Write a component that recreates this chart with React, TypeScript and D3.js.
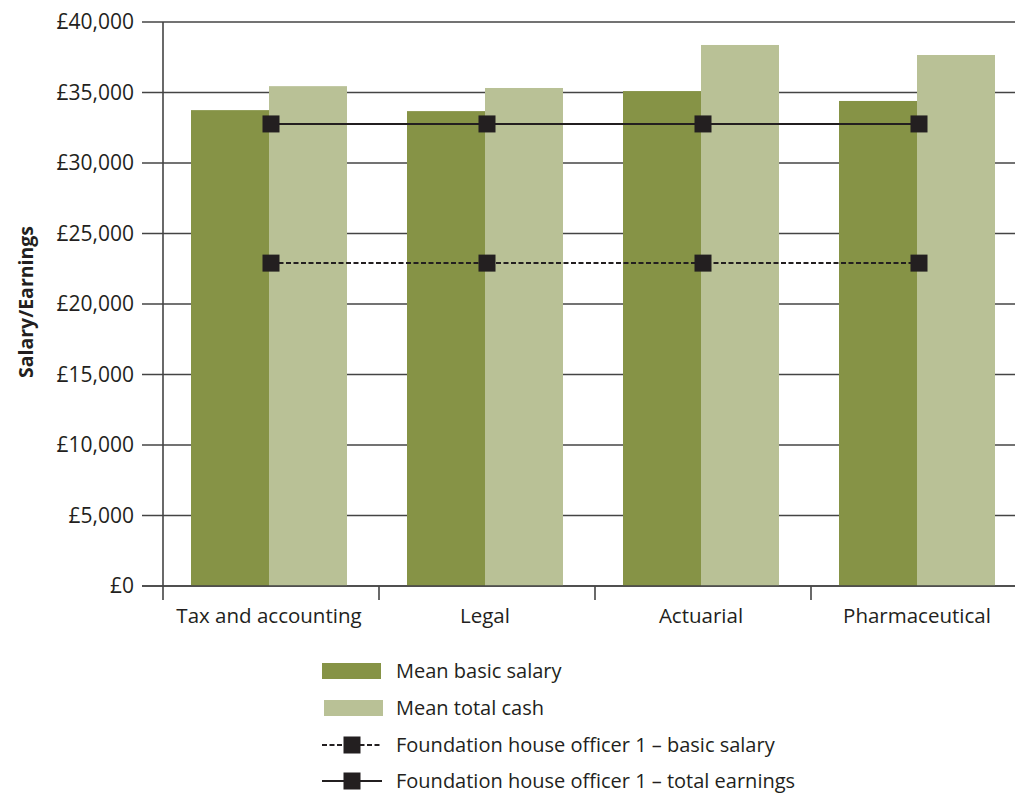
import { useEffect, useRef } from 'react'
import * as d3 from 'd3'

const categories = ['Tax and accounting', 'Legal', 'Actuarial', 'Pharmaceutical']
const meanBasicSalary = [33750, 33680, 35100, 34400]
const meanTotalCash = [35450, 35320, 38370, 37660]
const fhoBasicSalary = [22900, 22900, 22900, 22900]
const fhoTotalEarnings = [32770, 32770, 32770, 32770]
const yTicks = [0, 5000, 10000, 15000, 20000, 25000, 30000, 35000, 40000]

const seriesNames = ['Mean basic salary', 'Mean total cash']
const barColors = ['#869346', '#b9c196']
const lineNames = ['Foundation house officer 1 – basic salary', 'Foundation house officer 1 – total earnings']

export default function App() {
    const svgRef = useRef<SVGSVGElement>(null)

    useEffect(() => {
        if (!svgRef.current) return
        const svg = d3.select(svgRef.current)
        svg.selectAll('*').remove()

        const width = 1015
        const height = 795
        const font = 'Open Sans, sans-serif'
        const gridColor = '#444'
        const textColor = '#231f20'

        svg.attr('width', width).attr('height', height)

        const x = d3.scaleBand().domain(categories).range([163, 1027]).padding(0)
        const x1 = d3.scaleBand().domain(seriesNames).range([28, 184]).padding(0)
        const y = d3.scaleLinear().domain([0, 40000]).range([586, 22])

        // gridlines
        svg.append('g')
            .selectAll('line')
            .data(yTicks)
            .enter()
            .append('line')
            .attr('x1', 142)
            .attr('x2', width)
            .attr('y1', d => y(d))
            .attr('y2', d => y(d))
            .attr('stroke', gridColor)
            .attr('stroke-width', 1.6)

        // y tick labels
        svg.append('g')
            .selectAll('text')
            .data(yTicks)
            .enter()
            .append('text')
            .attr('x', 134)
            .attr('y', d => y(d))
            .attr('dy', '0.35em')
            .attr('text-anchor', 'end')
            .style('font-family', font)
            .style('font-size', '21px')
            .style('fill', textColor)
            .text(d => '£' + d3.format(',')(d))

        // bars
        const data = categories.map((c, i) => ({ cat: c, values: [meanBasicSalary[i], meanTotalCash[i]] }))
        const groups = svg.append('g')
            .selectAll('g')
            .data(data)
            .enter()
            .append('g')
            .attr('transform', d => `translate(${x(d.cat)},0)`)
        groups.selectAll('rect')
            .data(d => d.values.map((v, j) => ({ name: seriesNames[j], v, j })))
            .enter()
            .append('rect')
            .attr('x', d => x1(d.name)!)
            .attr('width', x1.bandwidth())
            .attr('y', d => y(d.v))
            .attr('height', d => y(0) - y(d.v))
            .style('fill', d => barColors[d.j])

        // baseline over bars
        svg.append('line')
            .attr('x1', 142).attr('x2', width)
            .attr('y1', y(0)).attr('y2', y(0))
            .attr('stroke', gridColor).attr('stroke-width', 1.6)

        // y axis line
        svg.append('line')
            .attr('x1', 163).attr('x2', 163)
            .attr('y1', y(40000)).attr('y2', 600)
            .attr('stroke', gridColor).attr('stroke-width', 1.6)

        // category ticks
        svg.append('g')
            .selectAll('line')
            .data(categories.slice(1))
            .enter()
            .append('line')
            .attr('x1', d => x(d)!).attr('x2', d => x(d)!)
            .attr('y1', y(0)).attr('y2', 600)
            .attr('stroke', gridColor).attr('stroke-width', 1.6)

        // category labels
        svg.append('g')
            .selectAll('text')
            .data(categories)
            .enter()
            .append('text')
            .attr('x', d => x(d)! + x.bandwidth() / 2 - 2)
            .attr('y', 623)
            .attr('text-anchor', 'middle')
            .style('font-family', font)
            .style('font-size', '20.5px')
            .style('fill', textColor)
            .text(d => d)

        // FHO lines with square markers
        const lineSeries = [fhoBasicSalary, fhoTotalEarnings]
        const lineGen = d3.line<number>()
            .x((_, i) => x(categories[i])! + x.bandwidth() / 2)
            .y(d => y(d))
        lineSeries.forEach((vals, k) => {
            svg.append('path')
                .datum(vals)
                .attr('d', lineGen)
                .attr('fill', 'none')
                .attr('stroke', textColor)
                .attr('stroke-width', 2)
                .attr('stroke-dasharray', k === 0 ? '5,2.5' : null)
            svg.append('g')
                .selectAll('rect')
                .data(vals)
                .enter()
                .append('rect')
                .attr('x', (_, i) => x(categories[i])! + x.bandwidth() / 2 - 8.5)
                .attr('y', d => y(d) - 8.5)
                .attr('width', 17)
                .attr('height', 17)
                .style('fill', textColor)
        })

        // y axis title
        svg.append('text')
            .attr('transform', 'translate(33,302) rotate(-90)')
            .attr('text-anchor', 'middle')
            .style('font-family', font)
            .style('font-size', '19.5px')
            .style('font-weight', 'bold')
            .style('fill', textColor)
            .text('Salary/Earnings')

        // legend
        const legend = svg.append('g')
        const rowY = [671, 708, 745, 781]
        seriesNames.forEach((name, i) => {
            legend.append('rect')
                .attr('x', 322 + i * 2)
                .attr('y', rowY[i] - 8)
                .attr('width', 59)
                .attr('height', 16)
                .style('fill', barColors[i])
            legend.append('text')
                .attr('x', 396)
                .attr('y', rowY[i])
                .attr('dy', '0.35em')
                .style('font-family', font)
                .style('font-size', '20px')
                .style('fill', textColor)
                .text(name)
        })
        lineNames.forEach((name, k) => {
            const ry = rowY[k + 2]
            legend.append('line')
                .attr('x1', 322).attr('x2', 382)
                .attr('y1', ry).attr('y2', ry)
                .attr('stroke', textColor)
                .attr('stroke-width', 2)
                .attr('stroke-dasharray', k === 0 ? '5,2.5' : null)
            legend.append('rect')
                .attr('x', 352 - 8.5).attr('y', ry - 8.5)
                .attr('width', 17).attr('height', 17)
                .style('fill', textColor)
            legend.append('text')
                .attr('x', 396)
                .attr('y', ry)
                .attr('dy', '0.35em')
                .style('font-family', font)
                .style('font-size', '20px')
                .style('fill', textColor)
                .text(name)
        })
    }, [])

    return (
        <div style={{ position: 'absolute', left: 0, top: 0 }}>
            <svg ref={svgRef} style={{ display: 'block' }}></svg>
        </div>
    )
}
